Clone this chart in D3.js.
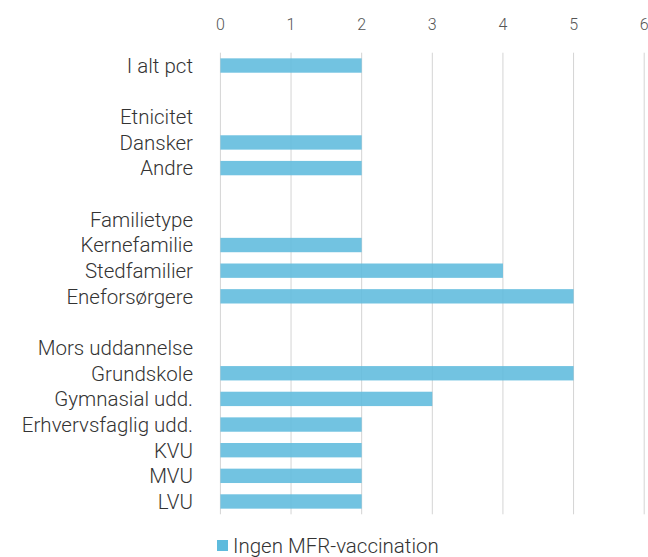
<!DOCTYPE html>
<html>
<head>
<meta charset="utf-8">
<script src="https://cdn.jsdelivr.net/npm/d3@7"></script>
<style>
  body { margin: 0; background: #fff; }
  svg { font-family: Roboto, "Noto Sans", sans-serif; font-weight: 300; }
</style>
</head>
<body>
<div class="viz"></div>
<script>
const width = 648;
const height = 557;

// rows top to bottom, "" = empty spacer row
const categories = [
    "I alt pct", "", "Etnicitet", "Dansker", "Andre", "",
    "Familietype", "Kernefamilie", "Stedfamilier", "Eneforsørgere", "",
    "Mors uddannelse", "Grundskole", "Gymnasial udd.", "Erhvervsfaglig udd.",
    "KVU", "MVU", "LVU"
];
const values = [2, null, null, 2, 2, null, null, 2, 4, 5, null, null, 5, 3, 2, 2, 2, 2];
const tickValues = [0, 1, 2, 3, 4, 5, 6];
const seriesName = "Ingen MFR-vaccination";

const svg = d3.select(".viz")
    .append("svg")
    .attr("width", width)
    .attr("height", height);

const rows = categories.map((c, i) => ({ key: i, label: c, value: values[i] }));

const x = d3.scaleLinear().domain([0, 6]).range([220.4, 644.2]);
const y = d3.scaleBand()
    .domain(rows.map(d => d.key))
    .range([52.7, 514.3])
    .paddingInner(0.44)
    .paddingOuter(0.22);

// gridlines
svg.selectAll(".grid")
    .data(tickValues)
    .enter()
    .append("line")
    .attr("x1", d => x(d))
    .attr("x2", d => x(d))
    .attr("y1", 52.7)
    .attr("y2", 514.3)
    .style("stroke", "#d4d4d4")
    .style("stroke-width", 1);

// top tick labels
svg.selectAll(".tick")
    .data(tickValues)
    .enter()
    .append("text")
    .attr("x", d => x(d))
    .attr("y", 30)
    .attr("text-anchor", "middle")
    .style("font-size", "16px")
    .style("fill", "#555")
    .text(d => d);

// bars
svg.selectAll(".bar")
    .data(rows.filter(d => d.value != null))
    .enter()
    .append("rect")
    .attr("x", x(0))
    .attr("y", d => y(d.key))
    .attr("width", d => x(d.value) - x(0))
    .attr("height", y.bandwidth())
    .style("fill", "#5ebbdd")
    .style("opacity", 0.88);

// category labels
svg.selectAll(".label")
    .data(rows.filter(d => d.label))
    .enter()
    .append("text")
    .attr("x", 193)
    .attr("y", d => y(d.key) + y.bandwidth() / 2)
    .attr("dy", "0.36em")
    .attr("text-anchor", "end")
    .style("font-size", "20.5px")
    .style("fill", "#333")
    .text(d => d.label);

// legend
svg.append("rect")
    .attr("x", 217)
    .attr("y", 540)
    .attr("width", 11)
    .attr("height", 11)
    .style("fill", "#5ebbdd");

svg.append("text")
    .attr("x", 233)
    .attr("y", 553)
    .style("font-size", "20.5px")
    .style("fill", "#333")
    .text(seriesName);
</script>
</body>
</html>
